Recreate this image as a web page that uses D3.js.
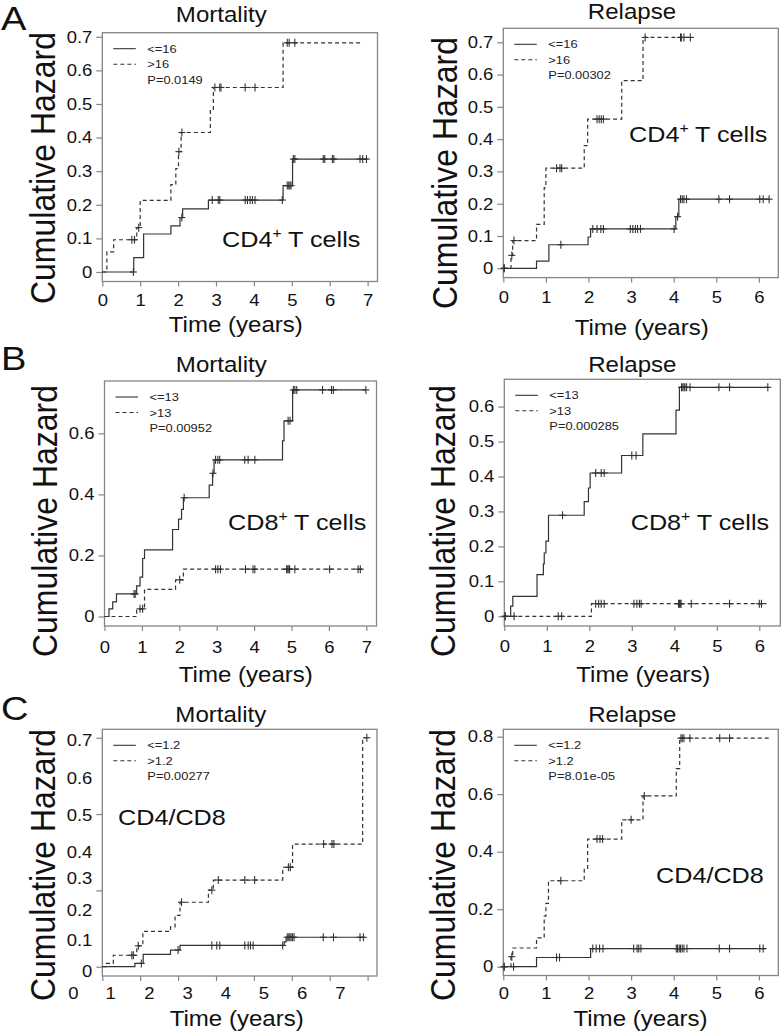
<!DOCTYPE html>
<html><head><meta charset="utf-8">
<script src="https://cdn.jsdelivr.net/npm/d3@7"></script>
<style>
body{margin:0;background:#fff;}
svg{display:block;font-family:"Liberation Sans",Arial,Helvetica,sans-serif;}
</style></head><body>
<svg id="chart" width="782" height="1036"></svg>
<script>
// ---------------- DATA ----------------
const panelLetters = ["A", "B", "C"];
const endpointTitles = ["Mortality", "Relapse"];
const markerNames = ["CD4", "CD8", "CD4/CD8"];
const groupLabelsA = ["<=16", ">16"];
const groupLabelsB = ["<=13", ">13"];
const groupLabelsC = ["<=1.2", ">1.2"];
const pValues = ["P=0.0149", "P=0.00302", "P=0.00952", "P=0.000285", "P=0.00277", "P=8.01e-05"];

const xTicks7 = [0, 1, 2, 3, 4, 5, 6, 7];
const xTicks6 = [0, 1, 2, 3, 4, 5, 6];
const yTicksA = [0, 0.1, 0.2, 0.3, 0.4, 0.5, 0.6, 0.7];
const yTicksBMort = [0, 0.2, 0.4, 0.6];
const yTicksBRel = [0, 0.1, 0.2, 0.3, 0.4, 0.5, 0.6];
const yTicksCRel = [0, 0.2, 0.4, 0.6, 0.8];
// C mortality panel: the printed tick marks and tick labels do not line up in the source figure
const yTickMarksCMort = [0, 0.7 / 3, 1.4 / 3, 0.7];
const yTickLabelsCMort = ["0", "0.1", "0.2", "0.3", "0.4", "0.5", "0.6", "0.7"];
const yTickLabelAtCMort = [-0.013, 0.082, 0.174, 0.271, 0.351, 0.464, 0.577, 0.693];
const xTickLabelsCMort = ["0", "1", "2", "3", "4", "5", "6", "7"];
const xTickLabelAtCMort = [-0.76, 0.22, 1.24, 2.25, 3.26, 4.26, 5.27, 6.28];

// step curves: [time, cumulative hazard]; censor times
const aMortLe16 = [[0,0],[0.83,0.043],[1.09,0.113],[1.81,0.137],[2.05,0.162],[2.12,0.188],[2.8,0.214],[4.77,0.257],[5.02,0.336],[7.0,0.336]];
const aMortLe16Cens = [0.82,2.1,2.9,3.06,3.1,3.77,3.83,3.9,3.96,4.03,4.75,4.88,4.92,4.95,4.98,5.04,5.08,5.83,5.87,6.07,6.11,6.8,6.87,6.97];
const aMortGt16 = [[0,0],[0.12,0.06],[0.3,0.096],[0.91,0.132],[1.0,0.213],[1.81,0.26],[1.94,0.308],[2.01,0.358],[2.08,0.415],[2.85,0.48],[2.93,0.549],[4.77,0.682],[6.88,0.682]];
const aMortGt16Cens = [0.78,0.85,0.96,2.02,2.1,2.97,3.1,3.13,3.77,4.03,4.88,4.93,5.08];

const aRelLe16 = [[0,0],[0.78,0.022],[1.07,0.073],[1.99,0.097],[2.05,0.122],[4.05,0.16],[4.12,0.214],[6.24,0.214]];
const aRelLe16Cens = [0.02,1.35,2.1,2.2,2.29,2.35,2.98,3.04,3.1,3.15,3.22,4.01,4.09,4.16,4.2,4.24,4.3,5.06,5.31,6.02,6.1,6.24];
const aRelGt16 = [[0,0],[0.18,0.04],[0.22,0.086],[0.78,0.136],[0.96,0.25],[1.0,0.31],[1.9,0.38],[1.98,0.462],[2.78,0.581],[3.28,0.715],[4.43,0.715]];
const aRelGt16Cens = [0.02,0.2,0.25,1.25,1.33,1.37,2.2,2.25,2.3,2.35,3.33,4.16,4.18,4.24,4.39];

const bMortLe13 = [[0,0],[0.12,0.025],[0.22,0.048],[0.32,0.074],[0.86,0.1],[0.95,0.129],[1.02,0.19],[1.07,0.218],[1.82,0.285],[1.98,0.319],[2.06,0.351],[2.11,0.389],[2.8,0.43],[2.89,0.469],[2.93,0.513],[4.76,0.575],[4.8,0.641],[5.03,0.742],[6.99,0.742]];
const bMortLe13Cens = [0.79,0.82,2.13,2.9,2.97,3.03,3.08,3.75,3.84,4.02,4.91,4.96,5.05,5.09,5.14,5.83,6.07,6.12,6.99];
const bMortGt13 = [[0,0],[0.86,0.025],[1.07,0.089],[1.9,0.12],[2.11,0.155],[6.93,0.155]];
const bMortGt13Cens = [0.95,1.02,2.01,2.97,3.03,3.1,3.77,3.97,4.02,4.87,4.9,4.93,4.95,5.09,6.02,6.78,6.84];

const bRelLe13 = [[0,0],[0.15,0.029],[0.2,0.057],[0.77,0.119],[0.92,0.15],[0.94,0.181],[0.98,0.215],[1.04,0.289],[1.88,0.328],[1.98,0.367],[2.02,0.41],[2.76,0.46],[3.26,0.522],[4.04,0.59],[4.12,0.655],[6.2,0.655]];
const bRelLe13Cens = [0.02,1.37,2.15,2.28,2.35,3.0,3.1,4.17,4.2,4.23,4.25,4.29,4.37,5.05,5.3,6.2];
const bRelGt13 = [[0,0],[2.05,0.036],[6.17,0.036]];
const bRelGt13Cens = [0.02,0.23,1.27,1.35,2.15,2.22,2.28,2.35,3.05,3.12,3.18,3.22,4.1,4.12,4.14,4.16,4.4,5.3,6.0,6.05];

const cMortLe12 = [[0,0],[0.86,0.01],[1.08,0.038],[1.8,0.051],[2.05,0.065],[4.8,0.076],[4.85,0.09],[6.93,0.09]];
const cMortLe12Cens = [1.03,2.0,2.89,3.02,3.1,3.76,3.85,3.91,3.98,4.76,4.88,4.92,4.95,4.98,5.02,5.06,5.83,6.1,6.8,6.89];
const cMortGt12 = [[0,0],[0.1,0.01],[0.29,0.035],[0.91,0.064],[1.07,0.108],[1.8,0.122],[1.92,0.157],[2.05,0.197],[2.8,0.234],[2.93,0.265],[4.76,0.304],[5.02,0.375],[6.87,0.7],[6.98,0.7]];
const cMortGt12Cens = [0.78,0.82,0.95,2.09,2.89,3.06,3.76,4.02,4.91,4.96,5.84,6.06,6.11,6.98];

const cRelLe12 = [[0,0],[0.78,0.032],[2.05,0.063],[6.16,0.063]];
const cRelLe12Cens = [0.02,0.24,1.25,1.32,2.1,2.18,2.26,2.34,3.06,3.14,3.18,3.23,4.06,4.09,4.13,4.16,4.2,4.24,4.31,5.07,5.31,6.02,6.1];
const cRelGt12 = [[0,0],[0.18,0.035],[0.22,0.065],[0.78,0.1],[0.96,0.176],[1.0,0.22],[1.06,0.299],[1.9,0.342],[1.98,0.444],[2.78,0.511],[3.28,0.594],[4.06,0.689],[4.14,0.795],[6.24,0.795]];
const cRelGt12Cens = [0.02,0.2,1.35,2.2,2.27,2.33,3.0,3.31,4.17,4.2,4.24,4.38,5.08,5.31];

// ---------------- DRAWING ----------------
const SX = 1.12;               // source figure is stretched horizontally
const CURVE = "#333";
const FRAME = "#858585";
const svg = d3.select("#chart");

function stext(g, x, y, str, size, anchor) {
  return g.append("text")
    .attr("transform", `translate(${x},${y}) scale(${SX},1)`)
    .attr("text-anchor", anchor || "start")
    .attr("font-size", size)
    .attr("fill", "#111")
    .text(str);
}
const fmt = d => d === 0 ? "0" : d3.format("~g")(+d.toFixed(3));

function hazardAt(steps, t) {
  let h = steps[0][1];
  for (const s of steps) { if (s[0] <= t) h = s[1]; }
  return h;
}

const panels = [
  {xr:[102.3,377.5], xd:[0,7.261], yr:[281.5,32.7], yd:[-0.0283,0.712], xt:xTicks7, yt:yTicksA,
   title:[endpointTitles[0],221.3,21.7], xlab:[235.8,332.3], ylab:[55,168], tickBase:305.7,
   annot:[markerNames[0],"+"," T cells",222,247], groups:groupLabelsA, p:pValues[0],
   series:[[aMortLe16,aMortLe16Cens,false],[aMortGt16,aMortGt16Cens,true]]},
  {xr:[503.3,778.3], xd:[0,6.455], yr:[277.6,28.3], yd:[-0.0288,0.7433], xt:xTicks6, yt:yTicksA,
   title:[endpointTitles[1],632,18.7], xlab:[641.7,335], ylab:[456.7,173], tickBase:303.3,
   annot:[markerNames[0],"+"," T cells",629,141.7], groups:groupLabelsA, p:pValues[1],
   series:[[aRelLe16,aRelLe16Cens,false],[aRelGt16,aRelGt16Cens,true]]},
  {xr:[104.5,376.5], xd:[0,7.273], yr:[626,381], yd:[-0.0311,0.7713], xt:xTicks7, yt:yTicksBMort,
   title:[endpointTitles[0],221.3,371.7], xlab:[245.8,681.7], ylab:[56.7,521], tickBase:653.3,
   annot:[markerNames[1],"+"," T cells",228,530], groups:groupLabelsB, p:pValues[2],
   series:[[bMortLe13,bMortLe13Cens,false],[bMortGt13,bMortGt13Cens,true]]},
  {xr:[504.3,780.3], xd:[0,6.494], yr:[626,379.3], yd:[-0.0278,0.678], xt:xTicks6, yt:yTicksBRel,
   title:[endpointTitles[1],632.3,371.7], xlab:[643.3,681.7], ylab:[455,521], tickBase:651.7,
   annot:[markerNames[1],"+"," T cells",630.7,530], groups:groupLabelsB, p:pValues[3],
   series:[[bRelLe13,bRelLe13Cens,false],[bRelGt13,bRelGt13Cens,true]]},
  {xr:[102.3,377], xd:[0,7.248], yr:[976,729.3], yd:[-0.0284,0.7258], xt:xTicks7, yt:yTickMarksCMort,
   special:true,
   title:[endpointTitles[0],220.8,721.7], xlab:[236.7,1025.5], ylab:[55,865], tickBase:999.3,
   annot:[markerNames[2],"","",118,825], groups:groupLabelsC, p:pValues[4],
   series:[[cMortLe12,cMortLe12Cens,false],[cMortGt12,cMortGt12Cens,true]]},
  {xr:[503.3,778.3], xd:[0,6.455], yr:[975.5,729.3], yd:[-0.0306,0.8257], xt:xTicks6, yt:yTicksCRel,
   title:[endpointTitles[1],632.3,721.7], xlab:[640.5,1025.5], ylab:[455,865], tickBase:999.3,
   annot:[markerNames[2],"","",656,883.3], groups:groupLabelsC, p:pValues[5],
   series:[[cRelLe12,cRelLe12Cens,false],[cRelGt12,cRelGt12Cens,true]]}
];

panels.forEach(P => {
  const g = svg.append("g");
  const x = d3.scaleLinear().domain(P.xd).range(P.xr);
  const y = d3.scaleLinear().domain(P.yd).range(P.yr);

  // y axis
  const ya = d3.axisLeft(y).tickValues(P.yt).tickSize(6).tickSizeOuter(0)
    .tickFormat(P.special ? "" : fmt);
  const yg = g.append("g").attr("transform", `translate(${P.xr[0]},0)`).call(ya);
  yg.attr("font-family", null).attr("font-size", 16.5);
  yg.select(".domain").remove();
  yg.selectAll(".tick line").attr("stroke", FRAME).attr("stroke-width", 1.2);
  yg.selectAll(".tick text").attr("fill", "#111").attr("x", -10 / SX)
    .attr("transform", `scale(${SX},1)`);
  if (P.special) {
    yTickLabelsCMort.forEach((lab, i) => {
      stext(g, P.xr[0] - 10, y(yTickLabelAtCMort[i]), lab, 16.5, "end").attr("dy", "0.35em");
    });
  }

  // x axis
  const xa = d3.axisBottom(x).tickValues(P.xt).tickSize(5).tickSizeOuter(0)
    .tickFormat(P.special ? "" : fmt);
  const xg = g.append("g").attr("transform", `translate(0,${P.yr[0]})`).call(xa);
  xg.attr("font-family", null).attr("font-size", 16.5);
  xg.select(".domain").remove();
  xg.selectAll(".tick line").attr("stroke", FRAME).attr("stroke-width", 1.2);
  xg.selectAll(".tick text").attr("fill", "#111").attr("y", P.tickBase - P.yr[0]).attr("dy", 0)
    .attr("transform", `scale(${SX},1)`);
  if (P.special) {
    xTickLabelsCMort.forEach((lab, i) => {
      stext(g, x(xTickLabelAtCMort[i]), P.tickBase, lab, 16.5, "middle");
    });
  }

  // frame
  g.append("rect")
    .attr("x", x(P.xd[0])).attr("y", y(P.yd[1]))
    .attr("width", x(P.xd[1]) - x(P.xd[0])).attr("height", y(P.yd[0]) - y(P.yd[1]))
    .attr("fill", "none").attr("stroke", FRAME).attr("stroke-width", 1.3);

  // curves
  const line = d3.line().x(d => x(d[0])).y(d => y(d[1])).curve(d3.curveStepAfter);
  P.series.forEach(([steps, cens, dashed]) => {
    g.append("path").attr("d", line(steps)).attr("fill", "none")
      .attr("stroke", CURVE).attr("stroke-width", 1.2)
      .attr("stroke-dasharray", dashed ? "4,3" : null);
    cens.forEach(t => {
      const cx = x(t), cy = y(hazardAt(steps, t));
      g.append("line").attr("x1", cx).attr("x2", cx).attr("y1", cy - 4).attr("y2", cy + 4)
        .attr("stroke", CURVE).attr("stroke-width", 1.1);
      g.append("line").attr("x1", cx - 3.5).attr("x2", cx + 3.5).attr("y1", cy).attr("y2", cy)
        .attr("stroke", CURVE).attr("stroke-width", 1.1);
    });
  });

  // legend
  const lx = P.xr[0], ly = P.yr[1];
  const rows = [16, 31.5, 47];
  [0, 1].forEach(i => {
    g.append("line").attr("x1", lx + 11).attr("x2", lx + 33.5)
      .attr("y1", ly + rows[i]).attr("y2", ly + rows[i])
      .attr("stroke", CURVE).attr("stroke-width", 1.1)
      .attr("stroke-dasharray", i === 1 ? "4,3" : null);
    stext(g, lx + 45, ly + rows[i], P.groups[i], 11.5, "start").attr("dy", "0.35em").attr("fill", "#222");
  });
  stext(g, lx + 45, ly + rows[2], P.p, 11.5, "start").attr("dy", "0.35em").attr("fill", "#222");

  // annotation
  const an = g.append("text")
    .attr("transform", `translate(${P.annot[3]},${P.annot[4]}) scale(${SX},1)`)
    .attr("font-size", 22.5).attr("fill", "#111");
  an.append("tspan").text(P.annot[0]);
  if (P.annot[1]) {
    an.append("tspan").attr("font-size", 14).attr("dy", -9).text(P.annot[1]);
    an.append("tspan").attr("font-size", 22.5).attr("dy", 9).text(P.annot[2]);
  }

  // titles & axis labels
  stext(g, P.title[1], P.title[2], P.title[0], 21.5, "middle");
  stext(g, P.xlab[0], P.xlab[1], "Time (years)", 21.5, "middle");
  g.append("text")
    .attr("transform", `translate(${P.ylab[0]},${P.ylab[1]}) scale(${SX},1) rotate(-90)`)
    .attr("text-anchor", "middle").attr("font-size", 32).attr("fill", "#111")
    .text("Cumulative Hazard");
});

// panel letters
const letterY = [30, 370, 720];
panelLetters.forEach((L, i) => stext(svg, 1, letterY[i], L, 34, "start"));
</script></body></html>
